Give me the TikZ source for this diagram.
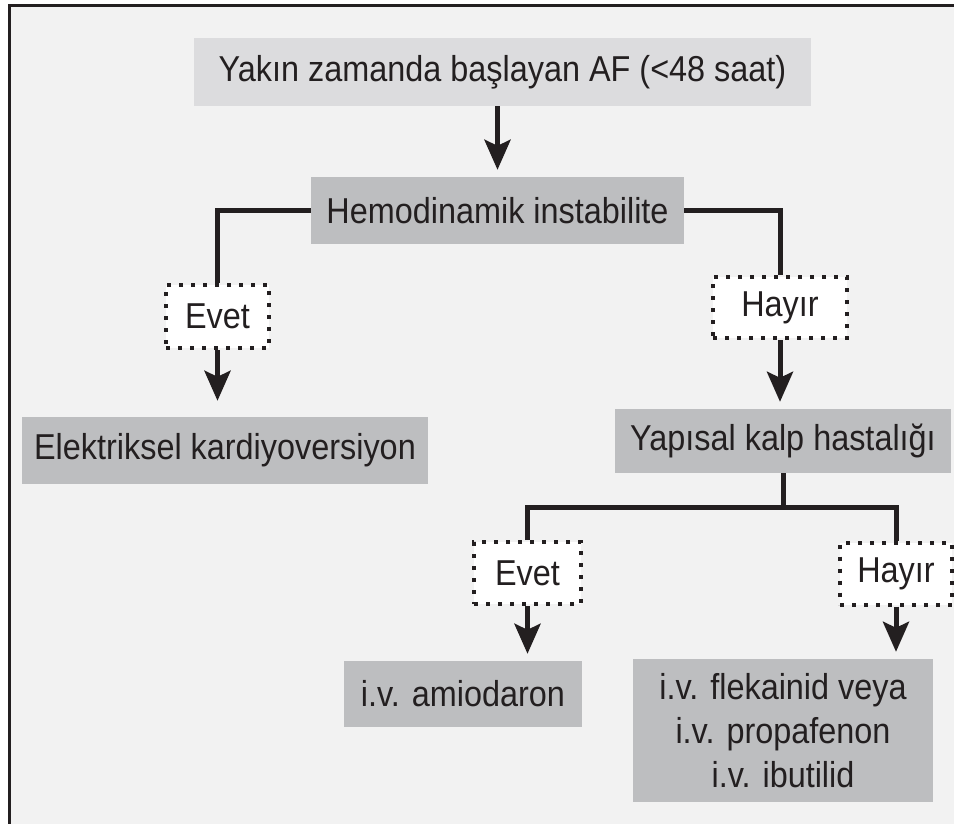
\documentclass[tikz,border=0pt]{standalone}
\usepackage{fontspec}
\setmainfont{Liberation Sans}[FakeStretch=0.9]
\usetikzlibrary{arrows.meta}
\definecolor{pagegray}{HTML}{F2F2F2}
\definecolor{boxlight}{HTML}{DCDCDE}
\definecolor{boxdark}{HTML}{BDBEC0}
\definecolor{inkblack}{HTML}{231F20}
\tikzset{
  box/.style={fill=boxdark, text=inkblack, minimum height=67pt, inner sep=0pt, font=\fontsize{36}{44}\selectfont},
  answer/.style={fill=white, draw=inkblack, text=inkblack, line width=4pt, dash pattern=on 4pt off 8pt, minimum height=62pt, inner sep=0pt, font=\fontsize{36}{44}\selectfont},
  link/.style={line width=5pt, draw=inkblack},
  go/.style={line width=5pt, draw=inkblack, -{Stealth[length=30pt,width=26pt,inset=6pt]}, shorten >=7pt}
}
\begin{document}
\begin{tikzpicture}[x=1pt,y=-1pt]
        \useasboundingbox (0,0) rectangle (954,824);
        \fill[white] (0,0) rectangle (954,824);
        \fill[pagegray] (9,6) rectangle (954,824);
        \draw[line width=3pt, inkblack] (9,824) -- (9,6) -- (954,6);
        \node at (502.5,72) [box, fill=boxlight, minimum width=617pt, minimum height=68pt] (onset) {Yakın zamanda başlayan AF (<48 saat)};
        \node at (497.5,210.5) [box, minimum width=373pt] (hemo) {Hemodinamik instabilite};
        \node at (217.5,316.5) [answer, minimum width=103pt, minimum height=63pt] (yes1) {Evet};
        \node at (780,307.5) [answer, minimum width=134pt, minimum height=61pt] (no1) {Hayır};
        \node at (225,450.5) [box, minimum width=406pt] (cardio) {Elektriksel kardiyoversiyon};
        \node at (783,441) [box, minimum width=336pt, minimum height=64pt] (struct) {Yapısal kalp hastalığı};
        \node at (527.5,573) [answer, minimum width=107pt] (yes2) {Evet};
        \node at (896,573.5) [answer, minimum width=112pt] (no2) {Hayır};
        \node at (463,694) [box, minimum width=238pt, minimum height=66pt] (amio) {i.v. amiodaron};
        \node at (783,730.5) [box, minimum width=300pt, minimum height=143pt, align=center] (drugs) {i.v. flekainid veya\\i.v. propafenon\\i.v. ibutilid};
        \coordinate (split) at (783,507);
        \draw[go] (hemo.north |- onset.south) -- (hemo.north);
        \draw[link] (hemo.west) -| (yes1.north);
        \draw[link] (hemo.east) -| (no1.north);
        \draw[go, shorten >=16pt] (yes1.south) -- (yes1.south |- cardio.north);
        \draw[go] (no1.south) -- (no1.south |- struct.north);
        \draw[link] (struct.south) -- (split);
        \draw[link] (yes2.north) |- (split) -| (no2.north);
        \draw[go] (yes2.south) -- (yes2.south |- amio.north);
        \draw[go] (no2.south) -- (no2.south |- drugs.north);
      \end{tikzpicture}
\end{document}
